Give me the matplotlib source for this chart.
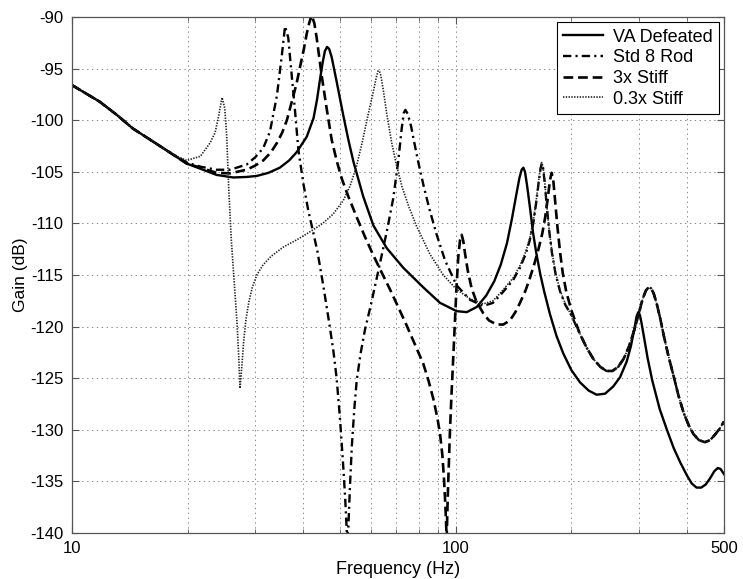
import matplotlib
matplotlib.use("Agg")
import matplotlib.pyplot as plt
from matplotlib.ticker import FixedLocator, NullFormatter, FixedFormatter

# ---------------- data ----------------
va_freq = [10, 11.8, 13.1, 14.4, 16.0, 17.6, 19.9, 21.6, 23.8, 26.3, 28.5, 30.3,
           32.5, 34.8, 36.8, 38.5, 40.9, 42.6, 43.5, 44.3, 45.0, 45.6, 46.2, 46.8,
           47.5, 48.9, 50.9, 52.5, 54.1, 57.4, 61.0, 66.1, 73.0, 82.3, 91.0, 100.5,
           106.8, 113.4, 120, 126, 131, 136, 140, 143.5, 146.5, 148.5, 150, 151.5,
           153.5, 156, 159, 162, 166, 170, 176, 183, 190.6, 200, 210.7, 222, 232.8,
           245, 257.3, 268, 278.8, 286, 292, 296, 299, 302, 305, 310, 316, 325, 340,
           355, 370, 385, 400, 412, 424, 436, 448, 460, 472, 482, 490, 500]
va_gain = [-96.6, -98.2, -99.5, -100.8, -101.9, -102.9, -104.2, -104.7, -105.3,
           -105.55, -105.5, -105.4, -105.1, -104.6, -103.9, -103.1, -101.6, -99.8,
           -98.0, -96.0, -94.4, -93.3, -92.9, -93.1, -93.9, -96.2, -99.5, -101.9,
           -104.0, -107.4, -110.2, -112.4, -114.3, -116.2, -117.7, -118.5, -118.6,
           -118.1, -117.0, -115.6, -114.0, -111.9, -109.6, -107.4, -105.6, -104.8,
           -104.6, -105.0, -106.4, -108.4, -110.9, -112.8, -114.9, -116.6, -118.8,
           -120.9, -122.6, -124.2, -125.4, -126.2, -126.6, -126.5, -125.8, -124.9,
           -123.4, -121.9, -120.2, -119.0, -118.6, -118.9, -119.7, -121.2, -123.0,
           -125.2, -128.0, -130.0, -131.8, -133.2, -134.4, -135.2, -135.6, -135.6,
           -135.3, -134.7, -134.0, -133.7, -133.8, -134.3]

std_freq = [10, 11.8, 13.1, 14.4, 16.0, 17.6, 19.9, 21.6, 23.8, 25.8, 28.5, 30.0,
            31.5, 32.8, 34.2, 35.2, 35.9, 36.6, 37.4, 38.1, 38.9, 40.1, 41.3, 42.3,
            43.6, 45.2, 47.0, 48.0, 48.9, 49.9, 50.8, 51.5, 52.1, 52.5, 53.0, 53.6,
            54.4, 55.2, 56.5, 58.0, 60.0, 62.5, 66.1, 68.7, 70.8, 72.3, 73.2, 73.9,
            75.0, 76.5, 78.0, 80.0, 82.5, 85.5, 89.2, 93.8, 100.5, 108.9, 117.9, 125,
            131, 141, 147, 152, 156, 159.5, 162, 164.5, 166.3, 167.5, 168.8, 170.5,
            172.5, 175, 178, 182, 187, 193, 200, 210, 219, 228, 238, 247, 256, 265,
            274, 283, 292, 300, 307, 313, 318, 323, 328, 334, 341, 348, 358, 369,
            380, 392, 404, 416, 430, 446, 460, 473, 487, 500]
std_gain = [-96.6, -98.2, -99.5, -100.8, -101.9, -102.9, -104.1, -104.5, -104.8,
            -104.8, -104.3, -103.6, -102.7, -101.1, -97.6, -93.8, -90.9, -92.0,
            -95.8, -99.0, -102.9, -106.2, -108.8, -110.5, -112.7, -116.1, -120.1,
            -122.4, -124.9, -128.8, -133.0, -136.6, -140.5, -139.4, -135.5, -131.6,
            -128.0, -125.2, -122.6, -120.3, -118.0, -115.0, -110.8, -107.6, -104.0,
            -100.8, -99.3, -99.0, -99.4, -100.6, -102.2, -104.2, -106.4, -108.7,
            -111.1, -113.6, -116.0, -117.4, -118.0, -117.7, -116.9, -115.5, -114.3,
            -113.0, -111.6, -109.8, -108.0, -106.0, -104.7, -104.2, -104.6, -106.0,
            -108.2, -110.6, -112.8, -114.9, -116.6, -117.9, -118.9, -120.6, -122.0,
            -123.1, -123.9, -124.3, -124.3, -123.9, -123.1, -121.9, -120.3, -118.7,
            -117.3, -116.5, -116.2, -116.3, -116.8, -117.8, -119.2, -120.8, -122.8,
            -124.7, -126.6, -128.3, -129.5, -130.4, -131.0, -131.2, -131.0, -130.5,
            -129.9, -129.2]

stiff3_freq = [10, 11.8, 13.1, 14.4, 16.0, 17.6, 19.9, 21.6, 23.8, 25.8, 28.5,
               30.0, 31.5, 33.0, 34.2, 35.3, 36.3, 37.7, 38.5, 39.3, 40.1, 40.9,
               41.5, 42.1, 42.8, 43.4, 44.7, 46.1, 47.5, 49.0, 50.5, 52.5, 55.2,
               58.0, 61.0, 64.0, 67.4, 71.0, 74.5, 78.0, 82.3, 85.0, 87.4, 89.5,
               91.0, 92.3, 93.2, 94.0, 94.7, 95.3, 96.0, 96.6, 97.5, 98.5, 99.5,
               100.5, 101.5, 102.6, 103.6, 104.6, 105.8, 107.5, 110, 113, 117.9,
               122, 127.8, 133, 138.4, 143, 147, 152, 156, 160, 164, 168, 171,
               173.5, 176, 177.8, 179.5, 181.5, 184, 187, 190, 194, 200, 210, 219,
               228, 238, 247, 256, 265, 274, 283, 292, 300, 307, 313, 318, 323, 328,
               334, 341, 348, 358, 369, 380, 392, 404, 416, 430, 446, 460, 473, 487,
               500]
stiff3_gain = [-96.6, -98.2, -99.5, -100.8, -101.9, -102.9, -104.2, -104.6,
               -105.1, -105.15, -104.8, -104.4, -103.9, -103.1, -102.2, -101.2,
               -100.0, -97.7, -96.4, -94.8, -93.3, -91.6, -90.6, -89.8, -90.6,
               -92.0, -95.6, -98.9, -101.9, -104.0, -105.7, -107.4, -109.4, -111.3,
               -113.1, -114.7, -116.4, -118.2, -119.9, -121.6, -123.6, -125.3,
               -127.0, -128.8, -130.4, -132.5, -134.8, -137.5, -140.5, -136.5,
               -133.0, -130.0, -126.5, -123.0, -119.5, -116.0, -113.3, -111.6,
               -111.1, -111.7, -113.0, -114.6, -116.3, -117.5, -118.7, -119.4,
               -119.8, -119.8, -119.4, -118.6, -117.7, -116.5, -115.3, -114.0,
               -112.6, -111.0, -109.4, -107.7, -105.8, -105.1, -105.8, -107.8,
               -110.3, -112.8, -114.8, -116.6, -118.4, -120.6, -122.0, -123.1,
               -123.9, -124.3, -124.3, -123.9, -123.1, -121.9, -120.3, -118.7,
               -117.3, -116.5, -116.2, -116.3, -116.8, -117.8, -119.2, -120.8,
               -122.8, -124.7, -126.6, -128.3, -129.5, -130.4, -131.0, -131.2,
               -131.0, -130.5, -129.9, -129.2]

stiff03_freq = [10, 11.8, 13.1, 14.4, 16.0, 17.6, 18.8, 19.9, 21.6, 22.9, 23.6,
                24.1, 24.6, 25.0, 25.3, 25.6, 26.0, 26.5, 26.9, 27.2, 27.4, 27.7,
                28.0, 28.4, 28.9, 29.5, 30.3, 31.5, 33.0, 35.5, 38.5, 42.6, 45.0,
                47.9, 50.9, 53.0, 55.0, 57.0, 59.0, 61.0, 62.2, 62.8, 63.3, 63.8,
                64.7, 66.1, 68.1, 70.0, 72.5, 75.5, 79.1, 85.7, 92.8, 100.5, 108.9,
                117.9, 125, 131, 141, 147, 152, 156, 159.5, 162, 164.5, 166.3,
                167.5, 168.8, 170.5, 172.5, 175, 178, 182, 187, 193, 200, 210, 219,
                228, 238, 247, 256, 265, 274, 283, 292, 300, 307, 313, 318, 323,
                328, 334, 341, 348, 358, 369, 380, 392, 404, 416, 430, 446, 460,
                473, 487, 500]
stiff03_gain = [-96.6, -98.2, -99.5, -100.8, -101.9, -102.9, -103.5, -103.9,
                -103.5, -102.2, -101.2, -99.6, -97.8, -98.8, -101.5, -106.5,
                -111.5, -116.0, -119.5, -123.0, -126.0, -123.9, -121.5, -119.3,
                -117.6, -116.2, -115.0, -114.0, -113.2, -112.3, -111.6, -110.6,
                -110.0, -109.1, -107.8, -106.4, -104.6, -102.2, -99.6, -97.2, -95.7,
                -95.2, -95.3, -95.7, -97.0, -99.4, -102.2, -104.3, -106.5, -108.4,
                -110.3, -113.0, -115.0, -116.4, -117.3, -117.8, -117.5, -116.7,
                -115.3, -114.1, -112.8, -111.4, -109.6, -107.8, -105.8, -104.5,
                -104.1, -104.5, -105.9, -108.1, -110.5, -112.7, -114.8, -116.5,
                -117.8, -118.9, -120.6, -122.0, -123.1, -123.9, -124.3, -124.3,
                -123.9, -123.1, -121.9, -120.3, -118.7, -117.3, -116.5, -116.2,
                -116.3, -116.8, -117.8, -119.2, -120.8, -122.8, -124.7, -126.6,
                -128.3, -129.5, -130.4, -131.0, -131.2, -131.0, -130.5, -129.9,
                -129.2]

series_labels = ["VA Defeated", "Std 8 Rod", "3x Stiff", "0.3x Stiff"]
x_major = [10, 100, 500]
x_major_labels = ["10", "100", "500"]
x_minor = [20, 30, 40, 50, 60, 70, 80, 90, 200, 300, 400]
y_ticks = [-140, -135, -130, -125, -120, -115, -110, -105, -100, -95, -90]

# ---------------- figure ----------------
plt.rcParams['font.family'] = ['Liberation Sans', 'DejaVu Sans']
plt.rcParams['lines.scale_dashes'] = False

fig = plt.figure(figsize=(7.43, 5.79), dpi=100)
ax = fig.add_axes([72 / 743, 46 / 579, 652 / 743, 516 / 579])

kw = dict(solid_joinstyle='round', dash_joinstyle='round', clip_on=True)
ax.plot(va_freq, va_gain, color='black', lw=1.7, ls='-', label=series_labels[0], **kw)
ax.plot(std_freq, std_gain, color='black', lw=1.7, ls=(0, (6, 3, 1.5, 3)),
        label=series_labels[1], **kw)
ax.plot(stiff3_freq, stiff3_gain, color='black', lw=1.9, ls=(0, (7, 3.5)),
        label=series_labels[2], **kw)
ax.plot(stiff03_freq, stiff03_gain, color='#222222', lw=1.2, ls=(0, (1, 1)),
        label=series_labels[3], **kw)

ax.set_xscale('log')
ax.set_xlim(10, 500)
ax.set_ylim(-140, -90)

ax.xaxis.set_major_locator(FixedLocator(x_major))
ax.xaxis.set_major_formatter(FixedFormatter(x_major_labels))
ax.xaxis.set_minor_locator(FixedLocator(x_minor))
ax.xaxis.set_minor_formatter(NullFormatter())
ax.set_yticks(y_ticks)
ax.set_yticklabels([str(v) for v in y_ticks])

grid_kw = dict(color='#888888', ls=(0, (1, 2.5)), lw=0.7)
ax.grid(True, which='major', axis='both', **grid_kw)
ax.grid(True, which='minor', axis='x', **grid_kw)

ax.tick_params(which='both', direction='in', top=True, right=True,
               labelsize=12, color='#555555', pad=6)
ax.tick_params(which='major', length=5)
ax.tick_params(which='minor', length=3)
for s in ax.spines.values():
    s.set_color('#555555')
    s.set_linewidth(0.9)

ax.set_xlabel("Frequency (Hz)", fontsize=13, labelpad=3)
ax.set_ylabel("Gain (dB)", fontsize=12.5, labelpad=2)

leg = ax.legend(loc='upper right', fontsize=13, frameon=True, fancybox=False,
                edgecolor='black', framealpha=1, handlelength=2.2,
                borderaxespad=0.3, borderpad=0.35, labelspacing=0.2,
                handletextpad=0.55)
leg.get_frame().set_linewidth(0.8)

fig.savefig("out.png", dpi=100)
